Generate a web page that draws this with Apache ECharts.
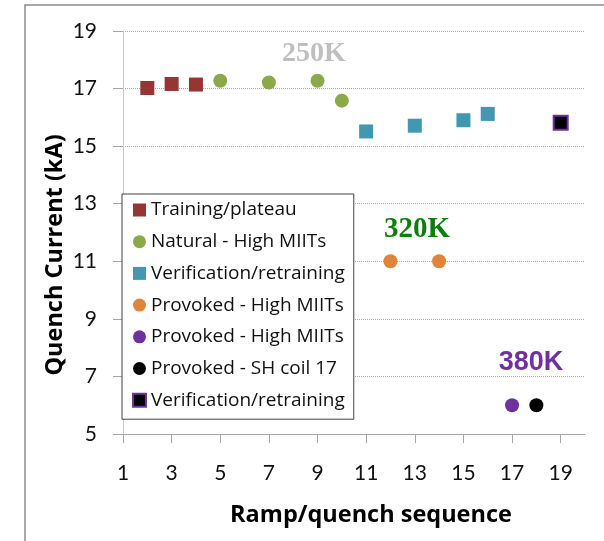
<!DOCTYPE html>
<html>
<head>
<meta charset="utf-8">
<script src="https://cdn.jsdelivr.net/npm/echarts@6/dist/echarts.min.js"></script>
<style>
  html, body { margin: 0; padding: 0; background: #fff; }
  #chart { width: 604px; height: 541px; }
</style>
</head>
<body>
<div id="chart"></div>
<script>
// Axis ticks
const xTicks = [1, 3, 5, 7, 9, 11, 13, 15, 17, 19];
const yTicks = [5, 7, 9, 11, 13, 15, 17, 19];

// Quench currents (kA) per ramp number, grouped by quench type
const trainingRamp = [2, 3, 4];
const trainingKA = [17.02, 17.16, 17.14];

const naturalRamp = [5, 7, 9, 10];
const naturalKA = [17.27, 17.21, 17.27, 16.58];

const verifyRamp = [11, 13, 15, 16];
const verifyKA = [15.51, 15.71, 15.90, 16.12];

const provoked320Ramp = [12, 14];
const provoked320KA = [11.0, 11.0];

const provoked380Ramp = [17];
const provoked380KA = [6.0];

const shCoilRamp = [18];
const shCoilKA = [6.0];

const reverifyRamp = [19];
const reverifyKA = [15.81];

const legendLabels = [
  'Training/plateau',
  'Natural - High MIITs',
  'Verification/retraining',
  'Provoked - High MIITs',
  'Provoked - High MIITs',
  'Provoked - SH coil 17',
  'Verification/retraining'
];

const zip = (xs, ys) => xs.map((x, i) => [x, ys[i]]);

const groups = [
  { x: trainingRamp, y: trainingKA, symbol: 'rect', color: '#963634' },
  { x: naturalRamp, y: naturalKA, symbol: 'circle', color: '#8CA94A' },
  { x: verifyRamp, y: verifyKA, symbol: 'rect', color: '#4298B0' },
  { x: provoked320Ramp, y: provoked320KA, symbol: 'circle', color: '#E0843C' },
  { x: provoked380Ramp, y: provoked380KA, symbol: 'circle', color: '#7030A0' },
  { x: shCoilRamp, y: shCoilKA, symbol: 'circle', color: '#000000' },
  { x: reverifyRamp, y: reverifyKA, symbol: 'rect', color: '#000000', border: '#7030A0' }
];

const TICK_FONT = 'Lato, "Open Sans", sans-serif';
const TEXT_FONT = '"Open Sans", Lato, sans-serif';

const series = groups.map((g, i) => ({
  name: 's' + i,
  type: 'scatter',
  symbol: g.symbol,
  symbolSize: 14,
  data: zip(g.x, g.y),
  itemStyle: g.border
    ? { color: g.color, borderColor: g.border, borderWidth: 2, opacity: 1 }
    : { color: g.color, opacity: 1 },
  emphasis: { disabled: true }
}));

const chart = echarts.init(document.getElementById('chart'), null, { renderer: 'canvas' });

chart.setOption({
  animation: false,
  backgroundColor: '#ffffff',
  grid: { left: 123, right: 19, top: 31, bottom: 107, containLabel: false },
  xAxis: {
    type: 'value',
    min: 1,
    max: 20,
    interval: 2,
    axisLine: { show: true, lineStyle: { color: '#a6a6a6', width: 1 } },
    axisTick: { show: true, length: 9, lineStyle: { color: '#a6a6a6' }, customValues: xTicks },
    axisLabel: { margin: 29, fontSize: 21, color: '#111', fontFamily: TICK_FONT, customValues: xTicks },
    splitLine: { show: false }
  },
  yAxis: {
    type: 'value',
    min: 5,
    max: 19,
    interval: 2,
    axisLine: { show: true, lineStyle: { color: '#c8c8c8', width: 1 } },
    axisTick: { show: true, length: 10, lineStyle: { color: '#a6a6a6' } },
    axisLabel: { margin: 26, fontSize: 21, color: '#111', fontFamily: TICK_FONT },
    splitLine: { show: true, lineStyle: { color: '#a8a8a8', type: 'dotted', width: 1 } }
  },
  legend: {
    orient: 'vertical',
    left: 122,
    top: 194,
    padding: [6, 9, 9, 10],
    itemGap: 11.7,
    itemWidth: 13,
    itemHeight: 13,
    backgroundColor: '#ffffff',
    borderColor: '#404040',
    borderWidth: 1,
    selectedMode: false,
    textStyle: { fontSize: 19, color: '#111', fontFamily: TEXT_FONT, lineHeight: 20 },
    formatter: name => legendLabels[Number(name.slice(1))],
    data: groups.map((g, i) => ({ name: 's' + i, icon: g.symbol }))
  },
  graphic: [
    // outer chart-area frame
    {
      type: 'rect', silent: true, z: 0,
      shape: { x: 25, y: 5, width: 800, height: 800 },
      style: { fill: 'none', stroke: '#8c8c8c', lineWidth: 1.5 }
    },
    {
      type: 'text', silent: true, z: 10,
      x: 55, y: 255, rotation: Math.PI / 2,
      style: {
        text: 'Quench Current (kA)', fill: '#000',
        font: 'bold 23.5px ' + TEXT_FONT, textAlign: 'center', textVerticalAlign: 'middle'
      }
    },
    {
      type: 'text', silent: true, z: 10,
      x: 371, y: 515,
      style: {
        text: 'Ramp/quench sequence', fill: '#000',
        font: 'bold 23.5px ' + TEXT_FONT, textAlign: 'center', textVerticalAlign: 'middle'
      }
    },
    {
      type: 'text', silent: true, z: 10,
      x: 314, y: 54,
      style: {
        text: '250K', fill: '#BFBFBF',
        font: 'bold 28px "Liberation Serif", serif', textAlign: 'center', textVerticalAlign: 'middle'
      }
    },
    {
      type: 'text', silent: true, z: 10,
      x: 417, y: 230,
      style: {
        text: '320K', fill: '#0A7F0A',
        font: 'bold 29px "Liberation Serif", serif', textAlign: 'center', textVerticalAlign: 'middle'
      }
    },
    {
      type: 'text', silent: true, z: 10,
      x: 531, y: 363,
      style: {
        text: '380K', fill: '#7030A0',
        font: 'bold 27px "Liberation Sans", Arial, sans-serif', textAlign: 'center', textVerticalAlign: 'middle'
      }
    }
  ],
  series: series
});
</script>
</body>
</html>
